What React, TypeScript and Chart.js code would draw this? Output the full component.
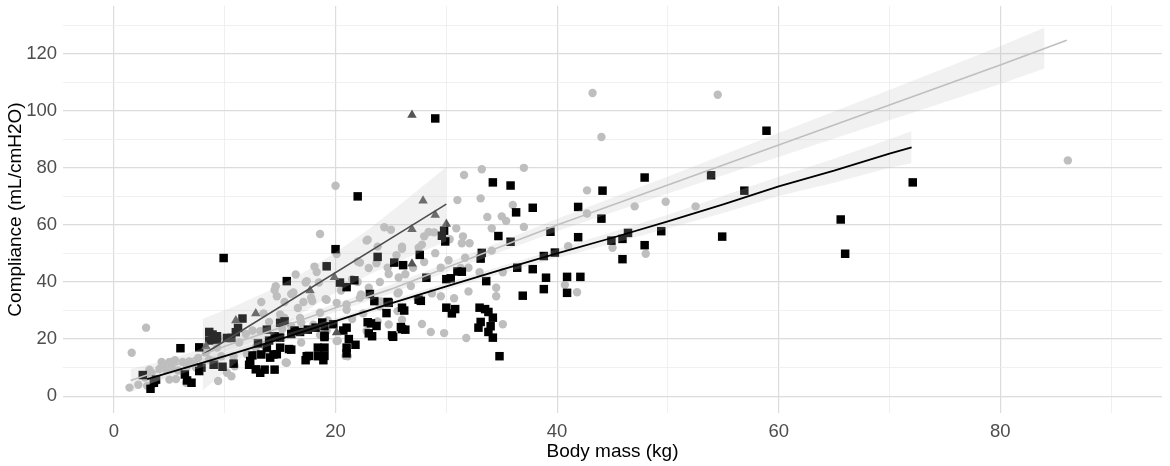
import { useEffect, useRef } from 'react';
import { Chart, registerables, type ChartConfiguration } from 'chart.js';

Chart.register(...registerables);

// [body mass kg, compliance mL/cmH2O]
const greyPoints: [number, number][] = [
  [1.4, 3], [1.6, 15.2], [2.9, 24], [2.2, 4], [3.0, 3.6], [3.2, 9.3], [3.7, 4.5], [2.8, 6.5],
  [3.4, 8.2], [4.1, 9.5], [4.4, 11], [4.3, 12], [5, 12], [5.5, 12.6], [6.2, 12], [6.8, 12.2],
  [4.7, 9.4], [5.2, 10.2], [5.6, 6], [5, 5.8], [5.8, 9], [6.5, 4.7], [6.6, 10.5], [7.2, 11.5],
  [7.4, 10], [7.6, 13.4], [8.3, 15.3], [8.6, 12.8], [9.1, 12.3], [9.3, 17], [9.7, 14], [10.8, 14],
  [9.4, 5.3], [10.2, 8.2], [10.6, 7], [10.9, 10.5], [12, 14.7], [11.3, 18.8], [11.9, 21.8], [12.5, 23],
  [13.2, 22.8], [12.8, 17], [13.5, 18], [14, 15], [14, 26], [13.5, 29], [13.3, 33],
  [14.5, 37.2], [14.7, 35], [16, 35.8], [15.4, 33], [15, 28.6], [16.6, 30.9], [17.9, 33.3], [19.2, 33.8],
  [16.9, 25.7], [18.6, 21.4], [20.1, 19.3], [21.1, 14], [19.3, 26.5], [15, 21], [15.6, 11.7], [15.2, 23.5],
  [16, 24.5], [18, 25], [18.6, 29.2], [21, 30.3], [22.8, 22.8], [16.4, 42.6], [17.4, 40.3], [18.3, 43.5],
  [18.6, 56.8], [20, 73.7], [22.8, 54.5], [14.6, 38.5], [16.2, 36.3], [17.1, 33], [17.8, 34.5], [19.1, 34],
  [20.1, 32.7], [22.2, 34.5], [15.4, 27.4], [16.8, 27.4], [16.9, 18.8], [15.5, 11.8], [19.2, 22.9], [20.2, 19.4],
  [20.9, 14.1], [18.1, 45.4], [19.2, 45.6], [17.3, 39.8], [18.5, 39.8],
  [22.9, 54.8], [20.1, 49.8], [23.8, 52.4], [26, 52.4], [25.5, 49.4], [22.2, 46.8], [23.7, 46.6], [24.7, 45],
  [26.3, 42.7], [21, 32.1], [24, 31.5], [25.7, 36.3], [25.6, 29.8], [26, 26.8], [23.8, 26.2], [24.8, 25.1],
  [24.4, 59.2], [25, 58.3], [26, 51.6], [28, 56], [28.9, 57.4], [27.8, 53.1], [29, 50.1], [22, 47.2],
  [23, 44.9], [24.8, 42.8], [25.7, 41.6], [22.3, 35.6], [24.1, 33.2], [25.6, 36], [26.8, 38.6], [27.4, 34.2],
  [28.7, 36], [29.5, 35], [27.8, 25.3], [28.6, 22.5], [29.8, 22.1], [28.4, 57.5], [27.5, 52], [27.6, 33.3],
  [21.5, 27], [22.5, 29], [23, 38], [21.5, 41], [20.5, 37], [22, 40], [24, 40], [27, 45], [28, 47], [29.5, 45],
  [31.6, 77.5], [33.2, 79.5], [37, 80], [31, 68.7], [33.1, 69.3], [36, 67], [33.7, 62.8], [35, 63],
  [35.4, 61.4], [37, 59.3], [34.1, 58.8], [30.9, 58.8], [31.5, 56], [32.1, 53.6], [30.3, 55], [30.2, 47.6],
  [31.7, 48.5], [32, 45], [34.1, 51], [33, 43.4], [35.1, 43.4], [30.7, 34.3], [34.5, 38], [34.5, 35],
  [31.8, 20.4], [35.1, 25.2], [31.4, 53.6], [31.3, 44.9], [32, 36.7], [40.7, 39], [41.8, 36.4], [41, 52.5],
  [42.7, 72.1], [42.7, 64], [43.2, 106.2], [44, 90.8], [47, 66.5], [49.8, 68.1], [52.5, 66.5], [45, 52],
  [48, 49.9], [54.5, 105.6], [86.1, 82.6],
];

const blackPoints: [number, number][] = [
  [2.6, 7.4], [3.3, 2.6], [3.6, 4.7], [3.8, 5.8], [6.4, 7.6], [7, 4.7], [6.6, 5.5], [7.7, 8.8],
  [7.9, 10], [9, 11], [9.8, 10.3], [10.8, 11.4], [12.3, 12.3], [12.8, 9.4], [6, 16.8], [7.7, 17.1],
  [8.6, 22.5], [8.9, 21.6], [9.3, 21], [8.6, 19.5], [9.3, 19.8], [10.2, 20.4], [10.6, 20.4], [11, 22.4],
  [11.2, 23.9], [11.6, 27.2], [9.9, 48.4],
  [12.5, 14.3], [13.3, 14.6], [13.2, 8.2], [13.6, 9.3], [14.5, 9.3], [14.4, 14.6], [15, 17], [16, 16.3],
  [17.4, 14], [18.4, 14], [19, 17], [13.8, 23.3], [15, 25.7], [15.6, 40.3], [19.2, 45.5], [20, 51.5],
  [14.7, 14.7], [13.8, 17], [14.1, 13.5], [12.2, 11], [15.8, 16.5], [17.6, 14.1], [19, 14.1], [18.4, 17],
  [19, 21.2], [15.4, 26.2],
  [13, 18.5], [14, 19.5], [15, 20.5], [16, 21.8], [16.8, 22.5], [17.5, 23.3], [18.2, 24], [19, 24.5],
  [19.8, 25.2], [14.5, 21], [16.3, 23], [18.8, 25.8],
  [20.4, 39.8], [21, 38.2], [21.7, 40.6], [22, 70], [23.8, 48.8], [25.3, 46.8], [26.1, 45.9], [23.1, 35.8],
  [23.5, 33.3], [24.8, 32.7], [26, 31], [24.6, 29.1], [22.9, 25.9], [23.7, 24.6], [23.3, 21], [25.2, 20.8],
  [26, 23.5], [20.7, 23], [21.2, 20], [21, 17], [21.8, 18], [21, 24], [23.2, 25.5], [23, 22],
  [28.2, 41.5], [30, 41], [31, 43.7], [27.6, 49.5], [27.5, 33.8], [24.7, 33], [25.9, 24.2], [25.1, 21.3],
  [21, 15], [19, 20.7], [17.3, 12.6], [18.9, 12.6], [29, 97.3], [29.6, 56.2], [29.9, 54.2], [29.8, 58],
  [26.2, 30], [27.7, 33.4], [26.3, 23.3], [30, 31], [30.5, 29], [30.8, 30.5],
  [34.2, 74.9], [35.8, 73.8], [37.8, 66], [36.3, 64.4], [34.7, 56.1], [35.8, 54.1], [39.4, 57.6], [33.2, 50.2],
  [33.1, 48.2], [31.4, 43.6], [30.4, 41.3], [33.6, 40.3], [36.4, 45], [37.8, 44.5], [38.8, 49.1], [39.8, 50.3],
  [39, 41.5], [38.8, 37.5], [36.9, 35.2], [40.9, 41.8], [40.9, 36.2], [33, 31], [33.8, 29.5], [34.2, 27.5],
  [33.1, 26], [34, 24.5], [33.8, 22.5], [34.2, 20.5], [34.8, 14], [32.9, 24], [33.5, 30.5], [41.9, 66.3],
  [41.9, 55.7], [42.1, 41.8],
  [58.9, 93], [44.1, 72], [47.9, 76.6], [53.9, 77.4], [56.9, 72], [44, 62.2], [44.9, 54.5], [45.9, 55.1],
  [46.4, 57.2], [49.4, 57.8], [47.9, 52.9], [54.9, 55.9], [65.6, 61.9], [66, 49.9], [72.1, 74.9], [45.9, 48],
];

const trianglePoints: [number, number][] = [
  [26.9, 98.5], [27.9, 68.5], [29, 63.5], [26.9, 58.5], [30, 60.3], [26.9, 46.4],
  [19.9, 41.7], [11, 26.5], [12.8, 29], [20.1, 22.3], [17.7, 37], [8.3, 17.5],
];

// smoothed fits and their confidence bands
const greyFitX = [1.5, 5, 10, 15, 20, 25, 30, 35, 40, 50, 60, 70, 80, 86];
const greyFitY = [5.5, 10, 17.5, 24, 31, 37.5, 45, 52.5, 60, 74, 88, 102, 116, 124.7];
const greyBandX = [1.5, 5, 10, 15, 20, 25, 30, 35, 40, 50, 60, 70, 80, 84];
const greyBandLo = [1.5, 7.2, 15.5, 22.4, 29.5, 36, 43.4, 50.7, 57.8, 71, 83.8, 96.7, 109.4, 114.8];
const greyBandHi = [9.5, 12.8, 19.5, 25.6, 32.5, 39, 46.6, 54.3, 62.2, 77, 92.2, 107.3, 122.6, 129.2];

const blackFitX = [3, 10, 15, 20, 25, 30, 35, 40, 45, 50, 55, 60, 65, 70, 72];
const blackFitY = [6, 14, 20, 26.3, 32.5, 38.5, 44.3, 50, 55.5, 61.2, 67.2, 73.5, 79, 85, 87.2];
const blackBandLo = [4, 12.7, 18.8, 25.2, 31.4, 37.3, 43, 48.4, 53.5, 58.8, 64.2, 70.1, 74.8, 80, 81.6];
const blackBandHi = [8, 15.3, 21.2, 27.4, 33.6, 39.7, 45.6, 51.6, 57.5, 63.6, 70.2, 76.9, 83.2, 90, 92.8];

const triFitX = [8, 30];
const triFitY = [14.5, 67.3];
const triBandX = [8, 11, 14, 17, 20, 23, 26, 30];
const triBandLo = [2, 11.7, 20.9, 29.1, 36.3, 42.5, 47.7, 54.3];
const triBandHi = [27, 31.7, 36.9, 43.1, 50.3, 58.5, 67.7, 80.3];

const xTickLabels = [0, 20, 40, 60, 80];
const yTickLabels = [0, 20, 40, 60, 80, 100, 120];

const FONT = '"Liberation Sans", Arial, sans-serif';
const BAND_FILL = 'rgba(190,190,190,0.22)';

const pts = (arr: [number, number][]) => arr.map(([x, y]) => ({ x, y }));
const xy = (xs: number[], ys: number[]) => xs.map((x, i) => ({ x, y: ys[i] }));

function bandPair(xs: number[], lo: number[], hi: number[], loIndex: number): any[] {
  return [
    {
      type: 'line', data: xy(xs, lo), borderWidth: 0, pointRadius: 0,
      fill: false, order: 1, borderColor: 'rgba(0,0,0,0)',
    },
    {
      type: 'line', data: xy(xs, hi), borderWidth: 0, pointRadius: 0,
      fill: { target: loIndex }, backgroundColor: BAND_FILL, order: 1, borderColor: 'rgba(0,0,0,0)',
    },
  ];
}

function fitLine(xs: number[], ys: number[], color: string, width: number): any {
  return {
    type: 'line', data: xy(xs, ys), borderColor: color, borderWidth: width,
    pointRadius: 0, fill: false, order: 0, tension: 0,
  };
}

const gridColor = (ctx: any) => (ctx.tick && ctx.tick.value % 20 === 0 ? '#dcdcdc' : '#ececec');
const gridWidth = (ctx: any) => (ctx.tick && ctx.tick.value % 20 === 0 ? 1.2 : 0.8);

export default function App() {
  const canvasRef = useRef<HTMLCanvasElement>(null);
  const chartRef = useRef<Chart | null>(null);

  useEffect(() => {
    document.body.style.margin = '0';
    if (!canvasRef.current) return;

    const datasets: any[] = [
      {
        type: 'scatter', data: pts(greyPoints), backgroundColor: '#bebebe',
        pointStyle: 'circle', pointRadius: 4.2, pointBorderWidth: 0, order: 4,
      },
      {
        type: 'scatter', data: pts(blackPoints), backgroundColor: '#000000',
        pointStyle: 'rect', pointRadius: 6, pointBorderWidth: 0, order: 3,
      },
      {
        type: 'scatter', data: pts(trianglePoints), backgroundColor: '#555555',
        pointStyle: 'triangle', pointRadius: 5.5, pointBorderWidth: 0, order: 2,
      },
    ];
    datasets.push(...bandPair(greyBandX, greyBandLo, greyBandHi, datasets.length));
    datasets.push(...bandPair(blackFitX, blackBandLo, blackBandHi, datasets.length));
    datasets.push(...bandPair(triBandX, triBandLo, triBandHi, datasets.length));
    datasets.push(fitLine(greyFitX, greyFitY, '#bfbfbf', 1.6));
    datasets.push(fitLine(blackFitX, blackFitY, '#000000', 1.8));
    datasets.push(fitLine(triFitX, triFitY, '#4d4d4d', 1.6));

    const config: ChartConfiguration = {
      type: 'scatter',
      data: { datasets },
      options: {
        animation: false,
        responsive: true,
        maintainAspectRatio: false,
        layout: { padding: { top: 4, right: 8, left: 0, bottom: 0 } },
        plugins: { legend: { display: false }, tooltip: { enabled: false } },
        scales: {
          x: {
            type: 'linear',
            min: -4.6,
            max: 94.6,
            afterFit: (s: any) => { s.height = 53; s.paddingLeft = 0; s.paddingRight = 0; },
            border: { display: false },
            grid: { color: gridColor, lineWidth: gridWidth, drawTicks: false },
            ticks: {
              stepSize: 10,
              includeBounds: false,
              autoSkip: false,
              maxRotation: 0,
              padding: 8,
              color: '#4d4d4d',
              font: { family: FONT, size: 18.5 },
              callback: (v: any) => (xTickLabels.includes(Number(v)) ? String(v) : ''),
            },
            title: {
              display: true,
              text: 'Body mass (kg)',
              color: '#000000',
              font: { family: FONT, size: 19 },
              padding: { top: 0, bottom: 3 },
            },
          },
          y: {
            type: 'linear',
            min: -5.9,
            max: 136.7,
            afterFit: (s: any) => { s.width = 63; s.paddingTop = 0; s.paddingBottom = 0; },
            border: { display: false },
            grid: { color: gridColor, lineWidth: gridWidth, drawTicks: false },
            ticks: {
              stepSize: 10,
              includeBounds: false,
              autoSkip: false,
              padding: 6,
              color: '#4d4d4d',
              font: { family: FONT, size: 18.5 },
              callback: (v: any) => (yTickLabels.includes(Number(v)) ? String(v) : ''),
            },
            title: {
              display: true,
              text: 'Compliance (mL/cmH2O)',
              color: '#000000',
              font: { family: FONT, size: 19 },
              padding: { top: 4, bottom: 0 },
            },
          },
        },
      },
    };

    chartRef.current = new Chart(canvasRef.current, config);
    return () => { chartRef.current?.destroy(); chartRef.current = null; };
  }, []);

  return (
    <div style={{ position: 'relative', width: 1170, height: 466 }}>
      <canvas ref={canvasRef} role="img" aria-label="Compliance versus body mass" />
    </div>
  );
}
